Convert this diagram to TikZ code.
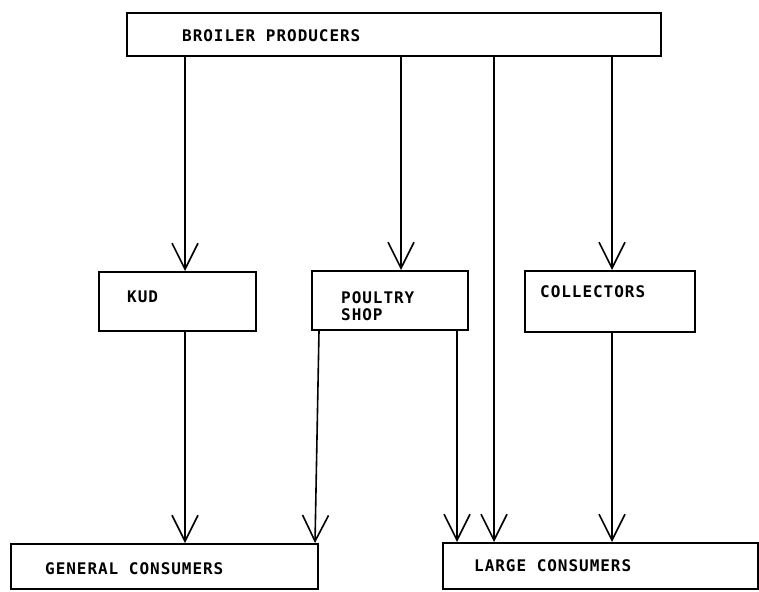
\documentclass[tikz,border=0pt]{standalone}
\usepackage{fontspec}
\newfontfamily\plotfont[LetterSpace=6]{DejaVu Sans Mono}
\usetikzlibrary{arrows.meta}
\begin{document}
\begin{tikzpicture}[x=1pt,y=-1pt,
  box/.style={draw, line width=1.8pt, rectangle, inner sep=0pt, anchor=north west},
  lbl/.style={font=\plotfont\bfseries\fontsize{16}{16.5}\selectfont, inner sep=0pt, anchor=west, align=left},
  flow/.style={line width=1.6pt, -{Straight Barb[length=26pt,width=26pt,line width=1.6pt]}}]
\useasboundingbox (0,0) rectangle (759,591);

% boxes
\node[box, minimum width=534pt, minimum height=43pt] (prod) at (126,12) {};
\node[box, minimum width=157pt, minimum height=59pt] (kud) at (98,271) {};
\node[box, minimum width=156pt, minimum height=59pt] (shop) at (311,270) {};
\node[box, minimum width=170pt, minimum height=61pt] (coll) at (524,270) {};
\node[box, minimum width=307pt, minimum height=45pt] (gen) at (10,543) {};
\node[box, minimum width=315pt, minimum height=46pt] (large) at (442,542) {};

% labels
\node[lbl] (prodtxt) at (182,36) {BROILER PRODUCERS};
\node[lbl] (kudtxt) at (127,297) {KUD};
\node[lbl] (shoptxt) at (341,306) {POULTRY\\SHOP};
\node[lbl] (colltxt) at (540,292) {COLLECTORS};
\node[lbl] (gentxt) at (45,569) {GENERAL CONSUMERS};
\node[lbl] (largetxt) at (474,566) {LARGE CONSUMERS};

% columns of the connectors
\coordinate (xk) at (185,0);
\coordinate (xs) at (401,0);
\coordinate (xb) at (494,0);
\coordinate (xc) at (612,0);
\coordinate (xl1) at (319,0);
\coordinate (xl2) at (315,0);
\coordinate (xr) at (457,0);

% connectors
\draw[flow] (prod.south -| xk) -- (kud.north -| xk);
\draw[flow] (prod.south -| xs) -- (shop.north -| xs);
\draw[flow] (prod.south -| xb) -- (large.north -| xb);
\draw[flow] (prod.south -| xc) -- (coll.north -| xc);
\draw[flow] (kud.south -| xk) -- (gen.north -| xk);
\draw[flow] (shop.south -| xl1) -- (gen.north -| xl2);
\draw[flow] (shop.south -| xr) -- (large.north -| xr);
\draw[flow] (coll.south -| xc) -- (large.north -| xc);
\end{tikzpicture}
\end{document}
